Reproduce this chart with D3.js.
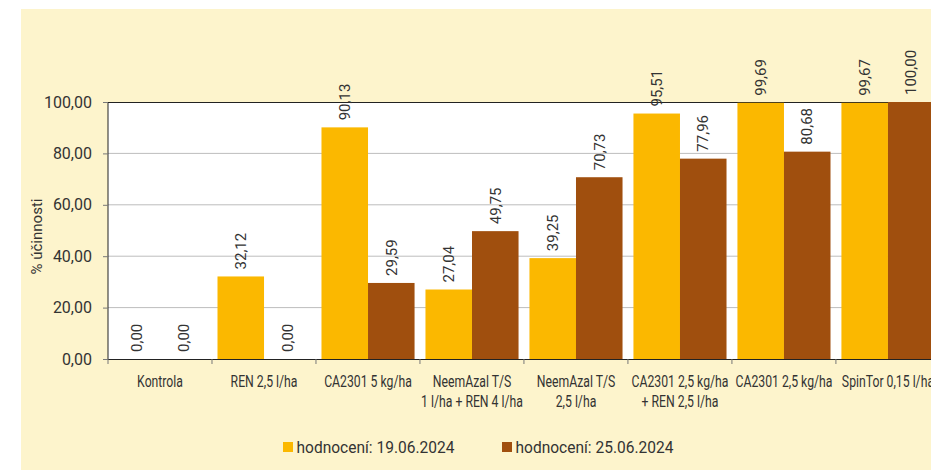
<!DOCTYPE html>
<html>
<head>
<meta charset="utf-8">
<script src="https://cdn.jsdelivr.net/npm/d3@7"></script>
<style>
  html, body { margin: 0; padding: 0; background: #fff; }
  #chart { width: 931px; height: 470px; overflow: hidden; }
</style>
</head>
<body>
<div id="chart"></div>
<script>
// categories (second line after \n)
var categories = ["Kontrola", "REN 2,5 l/ha", "CA2301 5 kg/ha",
                  "NeemAzal T/S\n1 l/ha + REN 4 l/ha", "NeemAzal T/S\n2,5 l/ha",
                  "CA2301 2,5 kg/ha\n+ REN 2,5 l/ha", "CA2301 2,5 kg/ha", "SpinTor 0,15 l/ha"];
var seriesNames = ["hodnocení: 19.06.2024", "hodnocení: 25.06.2024"];
var values1 = [0, 32.12, 90.13, 27.04, 39.25, 95.51, 99.69, 99.67];
var values2 = [0, 0, 29.59, 49.75, 70.73, 77.96, 80.68, 100];
var yTicks = [0, 20, 40, 60, 80, 100];

var colors = ["#fbb800", "#a04f0e"];
var w = 931, h = 470;
var margin = {top: 102, left: 108, bottom: 111};
var plotW = 104 * categories.length;   // extends past the right edge, as in the source
var plotH = h - margin.top - margin.bottom;

var fmt = v => d3.format(".2f")(v).replace(".", ",");

var svg = d3.select("#chart").append("svg")
  .attr("width", w)
  .attr("height", h)
  .style("font-family", "Roboto, sans-serif");

// cream panel
svg.append("rect")
  .attr("x", 21).attr("y", 9)
  .attr("width", w - 21).attr("height", h - 9)
  .attr("fill", "#fdf4cc");

var g = svg.append("g")
  .attr("transform", "translate(" + margin.left + "," + margin.top + ")");

var x0 = d3.scaleBand()
  .domain(categories)
  .range([0, plotW])
  .paddingInner(0.105)
  .paddingOuter(0.053);
var x1 = d3.scaleBand()
  .domain([0, 1])
  .range([0, x0.bandwidth()]);
var y = d3.scaleLinear()
  .domain([0, 100])
  .range([plotH, 0]);

// plot area
g.append("rect")
  .attr("width", plotW).attr("height", plotH)
  .attr("fill", "#fff");

// gridlines
g.append("g")
  .selectAll("line")
  .data(yTicks.filter(d => d > 0 && d < 100))
  .join("line")
    .attr("x1", 0).attr("x2", plotW)
    .attr("y1", d => y(d)).attr("y2", d => y(d))
    .attr("stroke", "#bdbdbd")
    .attr("stroke-width", 1);

// top border
g.append("line")
  .attr("x1", 0).attr("x2", plotW)
  .attr("y1", 0.5).attr("y2", 0.5)
  .attr("stroke", "#222");

// bars
var rows = categories.map((c, i) => ({cat: c, vals: [values1[i], values2[i]]}));
var groups = g.selectAll(".grp")
  .data(rows)
  .join("g")
    .attr("class", "grp")
    .attr("transform", d => "translate(" + x0(d.cat) + ",0)");

groups.selectAll("rect")
  .data(d => d.vals.map((v, k) => ({k: k, v: v})))
  .join("rect")
    .attr("x", d => x1(d.k))
    .attr("y", d => y(d.v))
    .attr("width", x1.bandwidth())
    .attr("height", d => plotH - y(d.v))
    .attr("fill", d => colors[d.k]);

groups.selectAll("text")
  .data(d => d.vals.map((v, k) => ({k: k, v: v})))
  .join("text")
    .attr("transform", d => "translate(" + (x1(d.k) + x1.bandwidth() / 2) + "," + (y(d.v) - 7) + ") rotate(-90)")
    .attr("dy", "0.35em")
    .attr("text-anchor", "start")
    .attr("font-size", 15)
    .attr("fill", "#333")
    .text(d => fmt(d.v));

// y axis
var yAxis = g.append("g")
  .call(d3.axisLeft(y).tickValues(yTicks).tickSize(5).tickFormat(fmt));
yAxis.select(".domain").attr("stroke", "#222").attr("d", "M0," + plotH + "V0");
yAxis.selectAll(".tick line").attr("stroke", "#777");
yAxis.selectAll("text")
  .attr("font-size", 16)
  .attr("font-family", "Roboto, sans-serif")
  .attr("fill", "#333")
  .attr("x", -16);

// x axis
var xAxis = g.append("g")
  .attr("transform", "translate(0," + plotH + ")")
  .call(d3.axisBottom(x0).tickSize(0).tickFormat(""));
xAxis.select(".domain").attr("stroke", "#222").attr("d", "M0,0.5H" + plotW);
xAxis.selectAll(".sep")
  .data(d3.range(categories.length + 1))
  .join("line")
    .attr("class", "sep")
    .attr("x1", d => d * x0.step()).attr("x2", d => d * x0.step())
    .attr("y1", 0).attr("y2", 5)
    .attr("stroke", "#777");

// condensed category labels: Roboto squeezed horizontally
var xl = g.append("g")
  .selectAll("g")
  .data(categories)
  .join("g")
    .attr("transform", d => "translate(" + (x0(d) + x0.bandwidth() / 2) + "," + (plotH + 28) + ") scale(0.72,1)")
  .append("text")
    .attr("text-anchor", "middle")
    .attr("font-size", 17)
    .attr("fill", "#333");
xl.selectAll("tspan")
  .data(d => d.split("\n"))
  .join("tspan")
    .attr("x", 0)
    .attr("dy", (d, i) => i ? 20 : 0)
    .text(d => d);

// y title
svg.append("text")
  .attr("transform", "translate(37," + (margin.top + plotH / 2 + 6) + ") rotate(-90)")
  .attr("text-anchor", "middle")
  .attr("dy", "0.35em")
  .attr("font-size", 15)
  .attr("fill", "#333")
  .text("% účinnosti");

// legend
var legX = [283, 502];
var leg = svg.append("g").selectAll("g")
  .data(seriesNames)
  .join("g")
    .attr("transform", (d, i) => "translate(" + legX[i] + ",447)");
leg.append("rect")
  .attr("x", 0).attr("y", -5)
  .attr("width", 10).attr("height", 10)
  .attr("fill", (d, i) => colors[i]);
leg.append("text")
  .attr("x", 14)
  .attr("dy", "0.35em")
  .attr("font-size", 16)
  .attr("fill", "#333")
  .attr("transform", "scale(0.97,1)")
  .text(d => d);
</script>
</body>
</html>
